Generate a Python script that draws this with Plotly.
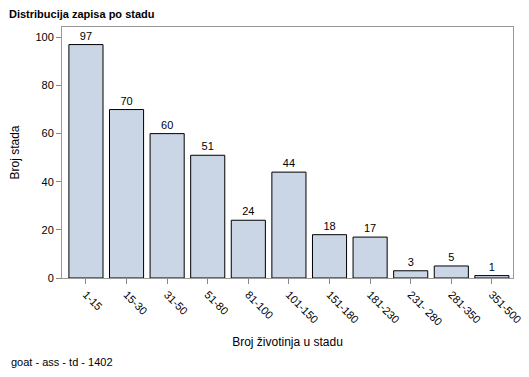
import plotly.graph_objects as go

categories = ["1-15", "15-30", "31-50", "51-80", "81-100", "101-150", "151-180", "181-230", "231- 280", "281-350", "351-500"]
values = [97, 70, 60, 51, 24, 44, 18, 17, 3, 5, 1]

FONT = "Liberation Sans, Arial, sans-serif"

# page body has an 8px default margin, so the figure is sized/offset to compensate
W, H = 521, 369
L, R, T, B = 54, 16, 19, 99
PW, PH = W - L - R, H - T - B

fig = go.Figure(go.Bar(
    x=list(range(len(categories))), y=values,
    text=[str(v) for v in values], textposition="outside",
    textfont=dict(family=FONT, size=11, color="black"),
    cliponaxis=False,
    width=0.84,
    marker=dict(color="#CAD5E6", line=dict(color="black", width=1)),
))

fig.update_layout(
    width=W, height=H,
    margin=dict(l=L, r=R, t=T, b=B, autoexpand=False),
    plot_bgcolor="white", paper_bgcolor="white",
    font=dict(family=FONT, size=11, color="black"),
    showlegend=False,
    title=dict(text="<b>Distribucija zapisa po stadu</b>", x=1/W, xanchor="left",
               y=1-6/H, yanchor="middle", font=dict(size=11, family=FONT)),
    annotations=[
        dict(text="goat - ass - td - 1402", xref="paper", yref="paper",
             x=(1-L)/PW, y=-(354-(T+PH))/PH, xanchor="left", yanchor="middle",
             showarrow=False, font=dict(size=11, family=FONT)),
    ],
)

fig.update_xaxes(
    range=[-0.59, 10.52], tickmode="array",
    tickvals=list(range(len(categories))), ticktext=categories,
    tickangle=45, ticks="outside", ticklen=5, tickcolor="#888",
    showline=True, linecolor="#999", mirror=True, showgrid=False,
    tickfont=dict(size=11, family=FONT),
    title=dict(text="Broj životinja u stadu", font=dict(size=12, family=FONT), standoff=10),
)
fig.update_yaxes(
    range=[0, 104.3], tickvals=[0, 20, 40, 60, 80, 100],
    ticks="outside", ticklen=5, tickcolor="#888",
    showline=True, linecolor="#999", mirror=True, showgrid=False, zeroline=False,
    tickfont=dict(size=11, family=FONT),
    title=dict(text="Broj stada", font=dict(size=12, family=FONT), standoff=14),
)

fig.write_html("out.html")
